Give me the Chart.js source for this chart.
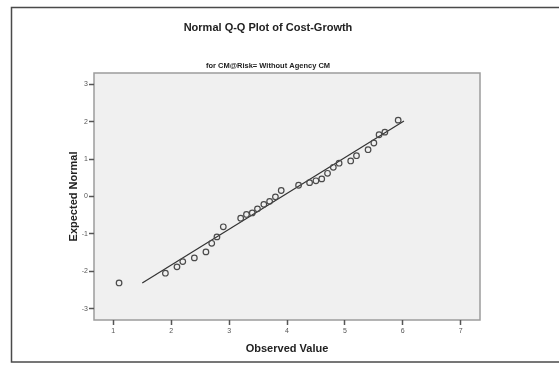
<!DOCTYPE html>
<html>
<head>
<meta charset="utf-8">
<script src="https://cdn.jsdelivr.net/npm/chart.js@4/dist/chart.umd.min.js"></script>
<style>
  html, body { margin: 0; padding: 0; background: #fff; }
  #wrap { width: 559px; height: 365px; position: relative; }
</style>
</head>
<body>
<div id="wrap"><canvas id="qq" width="559" height="365"></canvas></div>
<script>
// Observed cost-growth values and their expected normal scores
const observed = [1.10, 1.90, 2.10, 2.20, 2.40, 2.60, 2.70, 2.79, 2.90, 3.20, 3.30, 3.40, 3.49, 3.60, 3.70, 3.80, 3.90, 4.20, 4.39, 4.50, 4.60, 4.70, 4.80, 4.90, 5.10, 5.20, 5.40, 5.50, 5.59, 5.69, 5.92];
const expectedNormal = [-2.31, -2.05, -1.88, -1.74, -1.64, -1.48, -1.25, -1.08, -0.81, -0.58, -0.48, -0.44, -0.33, -0.21, -0.13, -0.01, 0.16, 0.30, 0.37, 0.42, 0.47, 0.62, 0.78, 0.89, 0.95, 1.09, 1.25, 1.43, 1.65, 1.72, 2.04];

// Reference line (expected normal for a fitted normal distribution)
const refLineX = [1.50, 6.02];
const refLineY = [-2.31, 2.02];

// Axis tick labels
const xTicks = [1, 2, 3, 4, 5, 6, 7];
const yTicks = [-3, -2, -1, 0, 1, 2, 3];

const FONT = "'Liberation Sans', Arial, Helvetica, sans-serif";

const pointsData = observed.map((x, i) => ({ x, y: expectedNormal[i] }));
const lineData = refLineX.map((x, i) => ({ x, y: refLineY[i] }));

// Outer chart frame plus the shaded plot area with its border
const framePlugin = {
  id: 'framePlugin',
  beforeDraw(chart) {
    const { ctx, chartArea: a } = chart;
    ctx.save();
    ctx.fillStyle = '#ffffff';
    ctx.fillRect(0, 0, chart.width, chart.height);
    ctx.strokeStyle = '#4a4a4a';
    ctx.lineWidth = 1.5;
    ctx.strokeRect(11.5, 7.5, chart.width + 40, 354.5);
    ctx.fillStyle = '#f0f0f0';
    ctx.fillRect(a.left, a.top, a.right - a.left, a.bottom - a.top);
    ctx.strokeStyle = '#9c9c9c';
    ctx.lineWidth = 1.5;
    ctx.strokeRect(a.left, a.top, a.right - a.left, a.bottom - a.top);
    ctx.restore();
  }
};

new Chart(document.getElementById('qq'), {
  data: {
    datasets: [
      {
        type: 'line',
        data: lineData,
        borderColor: '#333333',
        borderWidth: 1.2,
        pointRadius: 0,
        fill: false,
        order: 2
      },
      {
        type: 'scatter',
        data: pointsData,
        pointStyle: 'circle',
        pointRadius: 2.8,
        pointBorderWidth: 1.2,
        pointBorderColor: '#4a4a4a',
        pointBackgroundColor: 'rgba(0,0,0,0)',
        order: 1
      }
    ]
  },
  options: {
    responsive: false,
    animation: false,
    devicePixelRatio: 1,
    layout: { padding: { left: 56, right: 79, top: 0, bottom: 6 } },
    plugins: {
      legend: { display: false },
      tooltip: { enabled: false },
      title: {
        display: true,
        text: 'Normal Q-Q Plot of Cost-Growth',
        color: '#222222',
        font: { family: FONT, size: 11, weight: 'bold' },
        padding: { top: 21, bottom: 20 }
      },
      subtitle: {
        display: true,
        text: 'for CM@Risk= Without Agency CM',
        color: '#222222',
        font: { family: FONT, size: 7.5, weight: 'bold' },
        padding: { top: 7.3, bottom: 2.5 }
      }
    },
    scales: {
      x: {
        type: 'linear',
        min: 0.667,
        max: 7.333,
        afterBuildTicks(scale) { scale.ticks = xTicks.map(v => ({ value: v })); },
        afterFit(scale) { scale.height = 39; },
        border: { display: false },
        grid: { drawOnChartArea: false, drawTicks: true, tickLength: 5, tickColor: '#555555', tickWidth: 1.5 },
        ticks: { color: '#555555', font: { family: FONT, size: 7 }, padding: 2, maxRotation: 0 },
        title: {
          display: true,
          text: 'Observed Value',
          color: '#222222',
          font: { family: FONT, size: 11, weight: 'bold' },
          padding: { top: 0, bottom: 3 }
        }
      },
      y: {
        type: 'linear',
        min: -3.3,
        max: 3.3,
        afterBuildTicks(scale) { scale.ticks = yTicks.map(v => ({ value: v })); },
        afterFit(scale) { scale.width = 38; },
        border: { display: false },
        grid: { drawOnChartArea: false, drawTicks: true, tickLength: 5, tickColor: '#555555', tickWidth: 1.5 },
        ticks: { color: '#555555', font: { family: FONT, size: 7 }, padding: 1 },
        title: {
          display: true,
          text: 'Expected Normal',
          color: '#222222',
          font: { family: FONT, size: 11, weight: 'bold' },
          padding: { top: 11, bottom: 0 }
        }
      }
    }
  },
  plugins: [framePlugin]
});
</script>
</body>
</html>
